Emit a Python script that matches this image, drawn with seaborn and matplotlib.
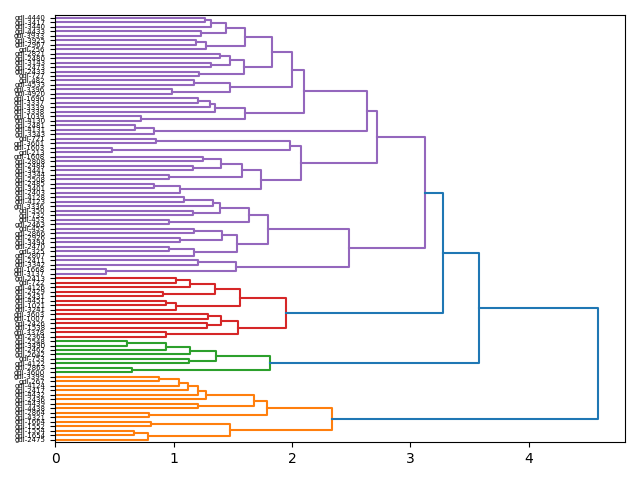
import numpy as np
import pandas as pd
import matplotlib
matplotlib.use("Agg")
import matplotlib.pyplot as plt
import seaborn as sns

# leaves as they appear from top to bottom
leaf_labels = [
    "gdl-4440", "gdl-3417", "gdl-3440", "gdl-4433", "gdl-3933", "gdl-3925", "gdl-2967", "gdl-256",
    "gdl-2821", "gdl-2480", "gdl-3143", "gdl-2473", "gdl-2433", "gdl-727", "gdl-482", "gdl-4533",
    "gdl-3396", "gdl-4920", "gdl-1690", "gdl-3337", "gdl-3339", "gdl-3338", "gdl-1039", "gdl-4130",
    "gdl-2481", "gdl-4131", "gdl-3343", "gdl-721", "gdl-3601", "gdl-1603", "gdl-213", "gdl-1608",
    "gdl-2808", "gdl-2484", "gdl-3441", "gdl-3344", "gdl-2508", "gdl-2485", "gdl-3401", "gdl-2403",
    "gdl-4128", "gdl-4123", "gdl-3336", "gdl-350", "gdl-732", "gdl-453", "gdl-2463", "gdl-455",
    "gdl-2866", "gdl-2926", "gdl-3494", "gdl-2470", "gdl-325", "gdl-2807", "gdl-2411", "gdl-3342",
    "gdl-1668", "gdl-3137",
    "gdl-2413", "gdl-722", "gdl-4126", "gdl-2429", "gdl-2431", "gdl-4451", "gdl-1021", "gdl-3241",
    "gdl-3603", "gdl-1007", "gdl-2426", "gdl-1538", "gdl-3378", "gdl-2364",
    "gdl-2548", "gdl-3490", "gdl-2462", "gdl-2642", "gdl-753", "gdl-4122", "gdl-2863", "gdl-3600",
    "gdl-3399", "gdl-267", "gdl-4124", "gdl-2417", "gdl-4432", "gdl-2436", "gdl-4439", "gdl-4438",
    "gdl-2864", "gdl-4321", "gdl-1664", "gdl-1552", "gdl-1554", "gdl-1654", "gdl-2475",
]

# merge distance between each leaf and the next one below it
merge_heights = [
    1.262, 1.313, 1.445, 1.234, 1.606, 1.190, 1.276, 1.834, 1.389, 1.473,
    1.313, 1.592, 1.211, 2.000, 1.169, 1.473, 0.986, 2.100, 1.206, 1.304,
    1.352, 1.606, 0.727, 2.630, 0.679, 0.839, 2.720, 0.850, 1.986, 0.480,
    2.080, 1.250, 1.404, 1.167, 1.580, 0.958, 1.737, 0.833, 1.056, 3.120,
    1.085, 1.330, 1.392, 1.167, 1.640, 0.960, 1.800, 1.169, 1.410, 1.058,
    1.540, 0.960, 1.169, 2.480, 1.210, 1.530, 0.434,
    3.274,
    1.017, 1.143, 1.347, 0.915, 1.564, 0.937, 1.025, 1.953, 1.290, 1.397,
    1.280, 1.541, 0.940,
    3.578,
    0.609, 0.935, 1.137, 1.355, 1.127, 1.811, 0.648,
    4.584,
    0.876, 1.044, 1.123, 1.210, 1.270, 1.676, 1.210, 1.792, 0.797, 2.338,
    0.806, 1.473, 0.670, 0.783,
]

# scipy-like: first leaf at the bottom
labels = leaf_labels[::-1]
gaps = merge_heights[::-1]
n = len(labels)
threshold = 0.7 * max(gaps)
link_colors = ["#ff7f0e", "#2ca02c", "#d62728", "#9467bd", "#8c564b",
               "#e377c2", "#7f7f7f", "#bcbd22", "#17becf"]
above_color = "#1f77b4"

rows = []
state = {"link": 0, "cluster": 0}


def build(lo, hi, color):
    if lo == hi:
        return 10 * lo + 5, 0.0
    k = lo + int(np.argmax(gaps[lo:hi]))
    h = gaps[k]
    if color is None and h < threshold:
        color = link_colors[state["cluster"] % len(link_colors)]
        state["cluster"] += 1
    ya, ha = build(lo, k, color)
    yb, hb = build(k + 1, hi, color)
    c = color if color is not None else above_color
    link = state["link"]
    state["link"] += 1
    for x, y in [(ha, ya), (h, ya), (h, yb), (hb, yb)]:
        rows.append((link, x, y, c))
    return (ya + yb) / 2, h


build(0, n - 1, None)
df = pd.DataFrame(rows, columns=["link", "x", "y", "color"])

fig, ax = plt.subplots(figsize=(6.4, 4.8), dpi=100)
sns.lineplot(data=df, x="x", y="y", units="link", estimator=None, hue="color",
             palette={c: c for c in df["color"].unique()}, sort=False,
             legend=False, linewidth=1.5, ax=ax)

ax.set_xlim(0, max(gaps) * 1.05)
ax.set_ylim(0, 10 * n)
ax.set_yticks(np.arange(n) * 10 + 5)
ax.set_yticklabels(labels, fontsize=5)
ax.set_xlabel("")
ax.set_ylabel("")

plt.subplots_adjust(left=0.086, right=0.977, top=0.968, bottom=0.079)
plt.savefig("out.png", dpi=100)
